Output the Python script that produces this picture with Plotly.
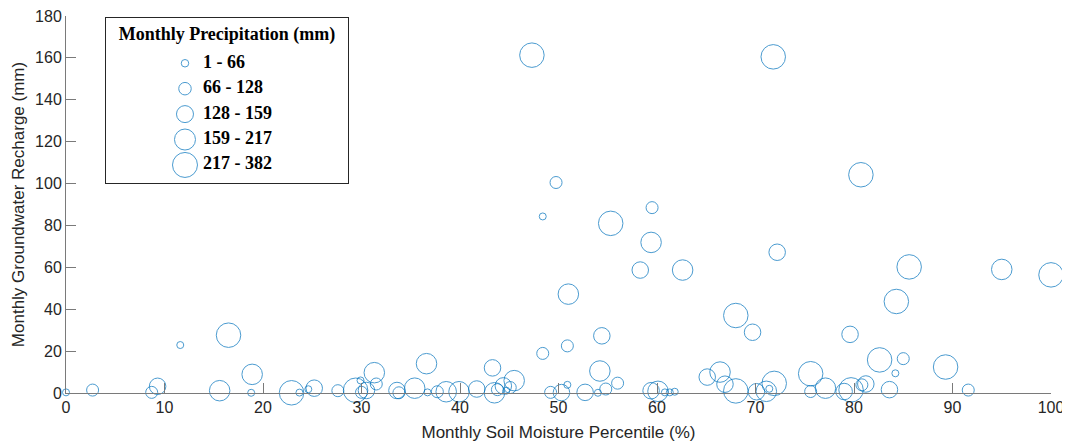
import plotly.graph_objects as go

# ---------------- data ----------------
soil_moisture = [0.0, 2.7, 8.7, 9.3, 11.6, 16.5, 15.6, 18.9, 18.8, 22.9,
                 23.7, 24.6, 25.2, 27.6, 29.4, 29.9, 30.0, 30.5, 31.3, 31.5,
                 33.6, 33.8, 35.4, 36.6, 36.7, 37.7, 38.6, 39.9, 41.7, 43.3,
                 43.5, 43.8, 44.4, 44.7, 45.1, 45.5, 48.4, 48.4, 49.75, 47.3,
                 49.2, 50.3, 50.9, 50.9, 51.0, 52.7, 54.0, 54.2, 54.4, 54.8,
                 55.3, 56.0, 58.3, 59.4, 59.4, 59.5, 60.1, 60.8, 61.3, 61.8,
                 62.6, 65.1, 66.4, 66.9, 68.0, 68.0, 69.7, 70.1, 71.1, 71.4,
                 71.9, 71.8, 72.2, 75.6, 75.6, 77.1, 79.0, 79.7, 79.6, 80.7,
                 80.8, 81.2, 82.6, 83.6, 84.2, 85.0, 84.3, 85.6, 89.3, 91.6,
                 95.0, 100.0]

recharge = [0.3, 1.4, 0.3, 3.2, 22.9, 27.6, 1.1, 8.9, 0.1, 0.1,
            0.2, 1.8, 2.3, 1.1, 1.3, 6.0, 0.3, 1.2, 9.7, 4.3,
            1.2, 0.1, 2.3, 14.0, 0.3, 0.6, 0.6, 0.6, 1.9, 12.0,
            0.1, 1.6, 3.4, 1.1, 2.6, 5.9, 18.9, 84.3, 100.5, 161.3,
            0.3, 0.2, 3.9, 22.5, 47.2, 0.3, 0.1, 10.5, 27.3, 1.9,
            81.0, 4.7, 58.7, 1.1, 71.9, 88.5, 0.8, 0.3, 0.3, 0.6,
            58.7, 7.6, 10.0, 4.2, 1.0, 37.0, 29.0, 0.6, 0.8, 2.0,
            4.6, 160.5, 67.2, 9.2, 0.7, 2.3, 0.7, 1.5, 28.0, 104.2,
            3.9, 4.3, 15.8, 1.6, 9.4, 16.4, 43.7, 60.2, 12.4, 1.4,
            59.0, 56.4]

precipitation = [22, 88, 95, 140, 35, 265, 190, 175, 41, 300,
                 30, 48, 145, 102, 240, 55, 90, 150, 200, 84,
                 138, 110, 185, 205, 28, 97, 195, 210, 150, 142,
                 188, 76, 133, 52, 118, 180, 92, 45, 105, 290,
                 99, 147, 38, 86, 182, 151, 25, 198, 139, 112,
                 310, 93, 144, 152, 201, 108, 207, 33, 40, 57,
                 192, 137, 186, 149, 270, 250, 141, 146, 193, 31,
                 235, 282, 153, 228, 100, 178, 136, 345, 148, 330,
                 96, 143, 260, 154, 44, 115, 290, 232, 255, 103,
                 203, 380]

bin_edges = [1, 66, 128, 159, 217, 382]
bin_labels = ["1 - 66", "66 - 128", "128 - 159", "159 - 217", "217 - 382"]
legend_title = "Monthly Precipitation (mm)"

# ---------------- styles ----------------
BUBBLE_SIZES = [7, 12, 16.5, 20.5, 24.5]   # marker diameter (px) per bin
BLUE = "#0072BD"
AXIS = "#7a7a7a"
TEXT = "#262626"
SANS = "Liberation Sans, Arial, sans-serif"
SERIF = "Liberation Serif, Times New Roman, serif"


def bin_index(p):
    for i in range(len(bin_edges) - 1):
        if p <= bin_edges[i + 1]:
            return i
    return len(bin_edges) - 2


sizes = [BUBBLE_SIZES[bin_index(p)] for p in precipitation]

fig = go.Figure()

fig.add_trace(go.Scatter(
    x=soil_moisture, y=recharge, mode="markers",
    marker=dict(size=sizes, color="rgba(0,0,0,0)",
                line=dict(color=BLUE, width=1)),
    cliponaxis=False, xaxis="x", yaxis="y",
    customdata=precipitation,
    hovertemplate="SM %{x}%<br>Recharge %{y} mm<br>P %{customdata} mm<extra></extra>",
))

# ---------------- custom bubble legend (own small axes) ----------------
rows = list(range(len(bin_labels)))
fig.add_trace(go.Scatter(
    x=[79] * len(rows), y=rows, mode="markers",
    marker=dict(size=[s + 0.5 for s in BUBBLE_SIZES], color="rgba(0,0,0,0)",
                line=dict(color=BLUE, width=1)),
    xaxis="x2", yaxis="y2", hoverinfo="skip", cliponaxis=False,
))
fig.add_trace(go.Scatter(
    x=[97] * len(rows), y=rows, mode="text",
    text=["<b>%s</b>" % t for t in bin_labels],
    textposition="middle right",
    textfont=dict(family=SERIF, size=18, color="black"),
    xaxis="x2", yaxis="y2", hoverinfo="skip", cliponaxis=False,
))
fig.add_trace(go.Scatter(
    x=[121], y=[-1.11], mode="text",
    text=["<b>%s</b>" % legend_title],
    textposition="middle center",
    textfont=dict(family=SERIF, size=18, color="black"),
    xaxis="x2", yaxis="y2", hoverinfo="skip", cliponaxis=False,
))

# The page body has an 8px default margin: the figure starts at (8, 8)
# in the 1070x444 window, so it is sized/margined to fill the rest.
fig.update_layout(
    width=1062, height=436,
    margin=dict(l=58, r=19, t=8, b=51),
    paper_bgcolor="white", plot_bgcolor="rgba(0,0,0,0)",
    showlegend=False,
    font=dict(family=SANS, color=TEXT),
    xaxis=dict(
        range=[0, 100], tickvals=list(range(0, 101, 10)),
        ticks="inside", ticklen=10, tickcolor=AXIS, tickwidth=1,
        showline=True, linecolor=AXIS, linewidth=1,
        showgrid=False, zeroline=False, automargin=False,
        ticklabeloverflow="allow",
        tickfont=dict(size=16, color=TEXT),
        title=dict(text="Monthly Soil Moisture Percentile (%)",
                   font=dict(size=17, color=TEXT), standoff=10),
        domain=[0, 1],
    ),
    yaxis=dict(
        range=[0, 180], tickvals=list(range(0, 181, 20)),
        ticks="inside", ticklen=10, tickcolor=AXIS, tickwidth=1,
        showline=True, linecolor=AXIS, linewidth=1,
        showgrid=False, zeroline=False, automargin=False,
        ticklabeloverflow="allow",
        tickfont=dict(size=16, color=TEXT),
        title=dict(text="Monthly Groundwater Recharge (mm)",
                   font=dict(size=17, color=TEXT), standoff=6),
        domain=[0, 1],
    ),
    xaxis2=dict(
        domain=[0.0406, 0.2863], range=[0, 242], anchor="y2",
        showline=True, mirror=True, linecolor=TEXT, linewidth=1,
        showticklabels=False, ticks="", showgrid=False, zeroline=False,
        fixedrange=True, automargin=False,
    ),
    yaxis2=dict(
        domain=[0.557, 0.9947], range=[4.71, -1.78], anchor="x2",
        showline=True, mirror=True, linecolor=TEXT, linewidth=1,
        showticklabels=False, ticks="", showgrid=False, zeroline=False,
        fixedrange=True, automargin=False,
    ),
)

fig.write_html("out.html")
